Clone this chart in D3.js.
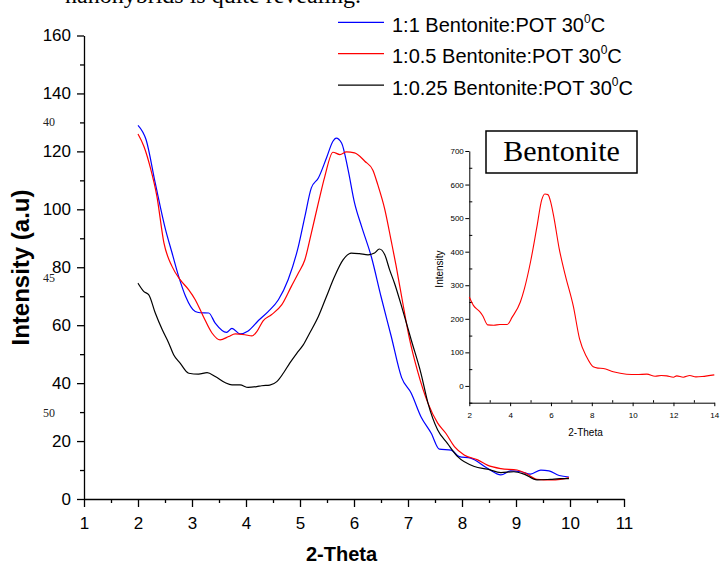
<!DOCTYPE html>
<html>
<head>
<meta charset="utf-8">
<script src="https://cdn.jsdelivr.net/npm/d3@7"></script>
<style>
  body { margin: 0; background: #fff; }
  svg { display: block; }
  text { font-family: "Liberation Sans", Arial, sans-serif; }
  .serif { font-family: "Liberation Serif", "Times New Roman", serif; }
</style>
</head>
<body>
<svg id="chart" width="720" height="563"></svg>
<script>
// ---- data ----
const theta11 = [2.0, 2.15, 2.32, 2.51, 2.63, 2.75, 2.88, 3.06, 3.15, 3.31, 3.43, 3.64, 3.74, 3.89, 4.04, 4.23, 4.41, 4.6, 4.78, 4.97, 5.09, 5.21, 5.34, 5.49, 5.61, 5.67, 5.77, 5.89, 6.01, 6.14, 6.32, 6.5, 6.69, 6.88, 7.06, 7.24, 7.43, 7.58, 7.8, 7.95, 8.16, 8.47, 8.72, 8.9, 9.09, 9.27, 9.46, 9.61, 9.8, 9.98];
const int11 = [129, 124, 109, 93, 85, 77, 70, 64.7, 64.3, 64.2, 60.7, 57.5, 58.9, 57, 58, 61.6, 64.7, 68.8, 75.7, 87.2, 97.5, 107.4, 110.8, 117.7, 123.5, 124.6, 122.9, 113.7, 102.2, 94.1, 83.7, 69.9, 56.1, 42, 36.5, 28.4, 22.7, 17.2, 16.9, 14.6, 14.1, 10.6, 8.3, 9.7, 9.4, 8.6, 10, 9.7, 8.1, 7.6];

const theta105 = [2.0, 2.11, 2.23, 2.35, 2.48, 2.63, 2.78, 2.94, 3.06, 3.21, 3.37, 3.52, 3.68, 3.8, 3.98, 4.11, 4.2, 4.32, 4.47, 4.66, 4.84, 4.97, 5.09, 5.21, 5.34, 5.46, 5.61, 5.74, 5.86, 6.01, 6.2, 6.35, 6.44, 6.57, 6.69, 6.78, 6.9, 7.02, 7.18, 7.37, 7.55, 7.7, 7.86, 8.04, 8.29, 8.47, 8.72, 9.02, 9.18, 9.39, 9.64, 9.82, 9.98];
const int105 = [126, 121.7, 114.3, 104.5, 88.4, 80.3, 75.7, 72.2, 68.8, 63, 57.3, 54.9, 56.1, 57, 56.7, 56.3, 57.8, 61.6, 63.6, 67, 73.4, 78, 82.6, 91.8, 102.2, 111.4, 119.7, 118.9, 119.8, 119.5, 116.6, 113.5, 108.5, 100, 89, 80.5, 68, 56, 44, 33.1, 26.2, 22.7, 18.1, 15.2, 13.5, 11.7, 10.5, 10, 8.9, 6.8, 6.6, 6.8, 7.4];

const theta1025 = [2.0, 2.11, 2.2, 2.32, 2.45, 2.57, 2.66, 2.78, 2.94, 3.12, 3.28, 3.43, 3.61, 3.74, 3.89, 4.04, 4.2, 4.29, 4.44, 4.57, 4.69, 4.81, 4.94, 5.06, 5.18, 5.34, 5.49, 5.64, 5.8, 5.95, 6.1, 6.26, 6.38, 6.47, 6.57, 6.66, 6.75, 6.9, 7.06, 7.24, 7.37, 7.55, 7.73, 7.92, 8.23, 8.47, 8.72, 8.96, 9.15, 9.39, 9.64, 9.82, 9.98];
const int1025 = [74.5, 71.6, 70.5, 64.2, 58.4, 53.8, 49.8, 46.9, 43.4, 43.1, 43.6, 42.3, 40.2, 39.4, 39.4, 38.5, 38.8, 39.1, 39.3, 40.5, 43.4, 46.9, 50.3, 53.2, 57.3, 63, 69.9, 76.8, 82.6, 84.9, 84.7, 84.3, 84.9, 86.3, 84.3, 79.1, 74.5, 65.3, 54.9, 43.4, 33.1, 23.8, 19.2, 14.6, 11.2, 10.3, 9.1, 9.4, 8.6, 6.6, 6.8, 7, 7];

const thetaBent = [2, 2.2, 2.5, 2.65, 2.9, 3.2, 3.5, 3.86, 4.1, 4.5, 4.7, 5.0, 5.3, 5.55, 5.7, 5.85, 6.0, 6.15, 6.4, 6.7, 7.1, 7.4, 7.75, 8.07, 8.3, 8.56, 9.05, 9.7, 10.2, 10.7, 11.1, 11.4, 11.67, 12.0, 12.16, 12.48, 12.8, 13.1, 13.4, 14];
const intBent = [265, 240, 222, 210, 182, 181, 183, 183, 205, 250, 290, 370, 470, 555, 572, 570, 545, 500, 410, 330, 236, 140, 86, 57, 53, 52, 42, 35, 34, 35, 29, 31, 30, 26, 30, 26, 31, 27, 28, 33];

const seriesNames = ["1:1 Bentonite:POT 30", "1:0.5 Bentonite:POT 30", "1:0.25 Bentonite:POT 30"];
const seriesColors = ["#0000ff", "#ff0000", "#000000"];

const mainXTicks = [1, 2, 3, 4, 5, 6, 7, 8, 9, 10, 11];
const mainYTicks = [0, 20, 40, 60, 80, 100, 120, 140, 160];
const insetXTicks = [2, 4, 6, 8, 10, 12, 14];
const insetYTicks = [0, 100, 200, 300, 400, 500, 600, 700];

const svg = d3.select("#chart");

// stray text from the page the figure was cut from
svg.append("text").attr("class", "serif")
  .attr("x", 65).attr("y", 3)
  .attr("font-size", "24px")
  .text("nanohybrids is quite revealing.");

[["40", 126], ["45", 282], ["50", 417]].forEach(([t, yy]) => {
  svg.append("text").attr("class", "serif")
    .attr("x", 43).attr("y", yy)
    .attr("font-size", "12px").attr("fill", "#222")
    .text(t);
});

// ---- main chart ----
const x = d3.scaleLinear().domain([1, 11]).range([84, 624]);
const y = d3.scaleLinear().domain([0, 160]).range([499, 35.5]);

const yAxis = svg.append("g")
  .attr("transform", "translate(84,0)")
  .call(d3.axisLeft(y).tickValues(mainYTicks).tickSize(7).tickSizeOuter(0).tickPadding(6));
yAxis.selectAll("text").attr("font-size", "17px").attr("font-family", null);

svg.append("g")
  .attr("transform", "translate(84,0)")
  .call(d3.axisLeft(y).tickValues(d3.range(10, 160, 20)).tickSize(4).tickFormat(""))
  .call(g => g.select(".domain").remove());

const xAxis = svg.append("g")
  .attr("transform", "translate(0,499)")
  .call(d3.axisBottom(x).tickValues(mainXTicks).tickSize(8).tickSizeOuter(0).tickPadding(10));
xAxis.selectAll("text").attr("font-size", "17px").attr("font-family", null);

svg.append("g")
  .attr("transform", "translate(0,499)")
  .call(d3.axisBottom(x).tickValues(d3.range(1.5, 11, 1)).tickSize(4).tickFormat(""))
  .call(g => g.select(".domain").remove());

svg.selectAll(".domain, .tick line").attr("stroke", "#000").attr("stroke-width", 1.3);

svg.append("text")
  .attr("transform", "translate(28.5,267.5) rotate(-90)")
  .attr("text-anchor", "middle")
  .attr("font-size", "24px").attr("font-weight", "bold")
  .text("Intensity (a.u)");

svg.append("text")
  .attr("x", 341.5).attr("y", 560.5)
  .attr("text-anchor", "middle")
  .attr("font-size", "20px").attr("font-weight", "bold")
  .text("2-Theta");

const mainSeries = [
  { xs: theta11, ys: int11 },
  { xs: theta105, ys: int105 },
  { xs: theta1025, ys: int1025 }
];

const line = d3.line()
  .x(d => x(d[0]))
  .y(d => y(d[1]))
  .curve(d3.curveMonotoneX);

mainSeries.forEach((s, i) => {
  svg.append("path")
    .datum(d3.zip(s.xs, s.ys))
    .attr("fill", "none")
    .attr("stroke", seriesColors[i])
    .attr("stroke-width", 1.2)
    .attr("d", line);
});

// legend
const legend = svg.append("g");
seriesNames.forEach((name, i) => {
  const ly = 22.3 + i * 31.4;
  legend.append("line")
    .attr("x1", 338).attr("x2", 384)
    .attr("y1", ly).attr("y2", ly)
    .attr("stroke", seriesColors[i]).attr("stroke-width", 1.2);
  const t = legend.append("text")
    .attr("x", 392).attr("y", ly + 9.4)
    .attr("font-size", "20px");
  t.append("tspan").text(name);
  t.append("tspan").attr("font-size", "12px").attr("dy", -9).text("0");
  t.append("tspan").attr("dy", 9).text("C");
});

// ---- inset: bentonite ----
const xi = d3.scaleLinear().domain([2, 14]).range([469.3, 714.3]);
const yi = d3.scaleLinear().domain([-50, 700]).range([402.7, 151]);

const inset = svg.append("g");

const iy = inset.append("g")
  .attr("transform", "translate(469.3,0)")
  .call(d3.axisLeft(yi).tickValues(insetYTicks).tickSize(4).tickSizeOuter(0).tickPadding(1.5));
iy.selectAll("text").attr("font-size", "8px").attr("font-family", null);

inset.append("g")
  .attr("transform", "translate(469.3,0)")
  .call(d3.axisRight(yi).tickValues(d3.range(-50, 700, 100)).tickSize(3).tickFormat(""))
  .call(g => g.select(".domain").remove());

const ix = inset.append("g")
  .attr("transform", "translate(0,402.7)")
  .call(d3.axisBottom(xi).tickValues(insetXTicks).tickSize(3.5).tickSizeOuter(0).tickPadding(6.5));
ix.selectAll("text").attr("font-size", "8px").attr("font-family", null);

inset.append("g")
  .attr("transform", "translate(0,402.7)")
  .call(d3.axisTop(xi).tickValues(d3.range(3, 14, 2)).tickSize(2.5).tickFormat(""))
  .call(g => g.select(".domain").remove());

inset.selectAll(".domain, .tick line").attr("stroke", "#000").attr("stroke-width", 1);

inset.append("path")
  .datum(d3.zip(thetaBent, intBent))
  .attr("fill", "none")
  .attr("stroke", "#ff0000")
  .attr("stroke-width", 1.1)
  .attr("d", d3.line().x(d => xi(d[0])).y(d => yi(d[1])).curve(d3.curveMonotoneX));

inset.append("text")
  .attr("transform", "translate(443,269) rotate(-90)")
  .attr("text-anchor", "middle")
  .attr("font-size", "10px")
  .text("Intensity");

inset.append("text")
  .attr("x", 585.5).attr("y", 436)
  .attr("text-anchor", "middle")
  .attr("font-size", "10px")
  .text("2-Theta");

inset.append("rect")
  .attr("x", 486).attr("y", 131)
  .attr("width", 151).attr("height", 42)
  .attr("fill", "#fff").attr("stroke", "#000").attr("stroke-width", 1.5);

inset.append("text").attr("class", "serif")
  .attr("x", 561.5).attr("y", 161)
  .attr("text-anchor", "middle")
  .attr("font-size", "30px")
  .text("Bentonite");
</script>
</body>
</html>
